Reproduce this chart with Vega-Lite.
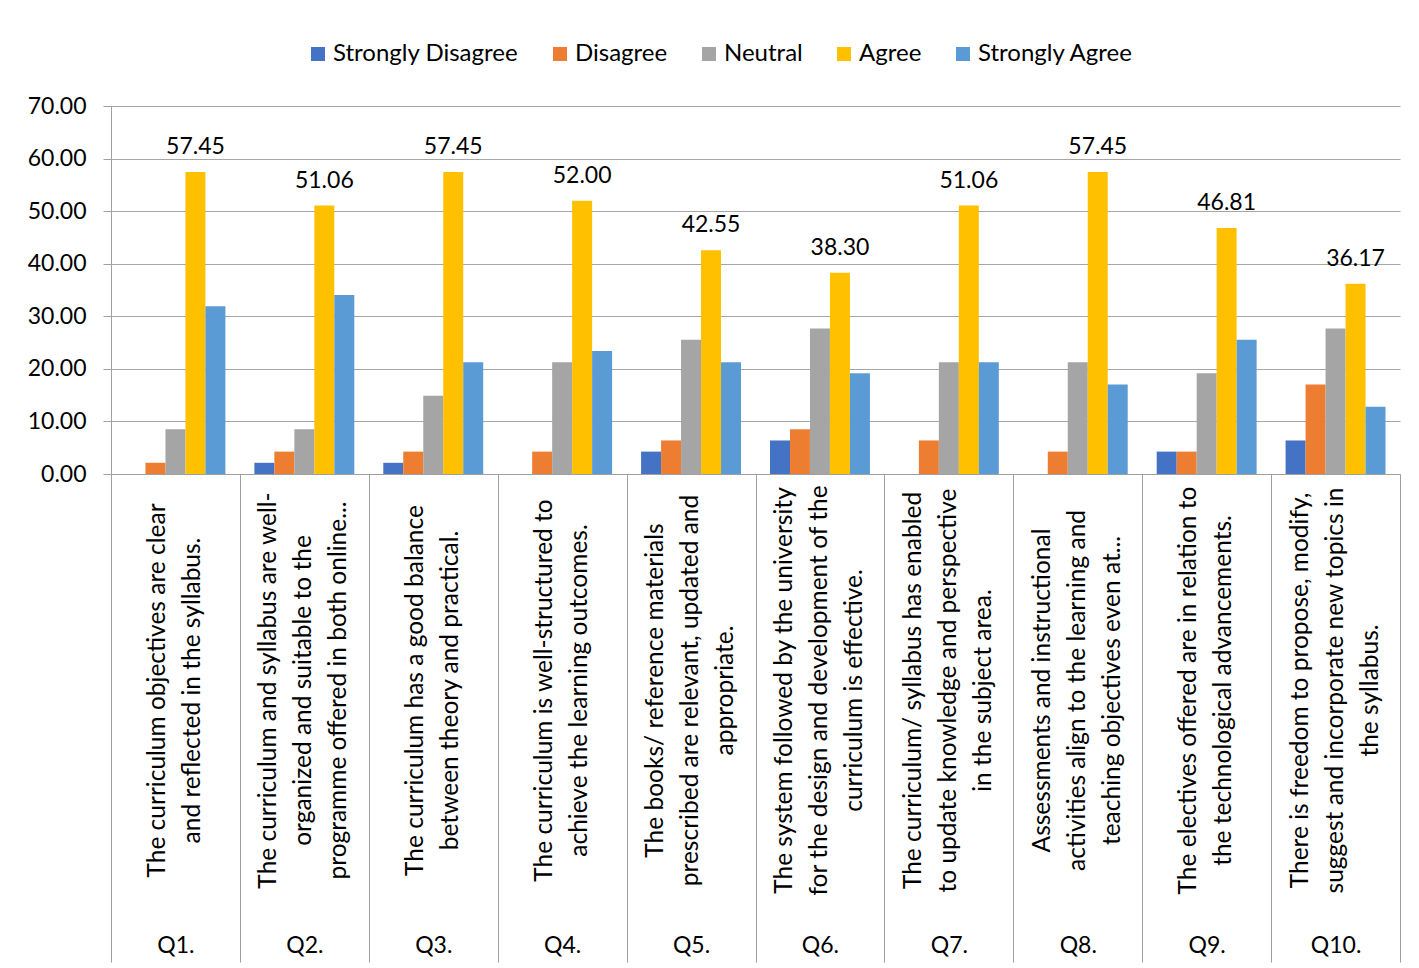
{
  "$schema": "https://vega.github.io/schema/vega-lite/v6.json",
  "width": 1289,
  "height": 368,
  "autosize": {"type": "none"},
  "padding": {"left": 111, "top": 106, "right": 19, "bottom": 494},
  "background": "white",
  "config": {
    "font": "Lato",
    "view": {"stroke": null},
    "axis": {"labelColor": "#000000", "labelFont": "Lato"},
    "legend": {"labelFont": "Lato"}
  },
  "datasets": {
    "questions": [
      {"q": "Q1.", "text": "The curriculum objectives are clear|and reflected in the syllabus."},
      {"q": "Q2.", "text": "The curriculum and syllabus are well-|organized and suitable to the|programme offered in both online..."},
      {"q": "Q3.", "text": "The curriculum has a good balance|between theory and practical."},
      {"q": "Q4.", "text": "The curriculum is well-structured to|achieve the learning outcomes."},
      {"q": "Q5.", "text": "The books/ reference materials|prescribed are relevant, updated and|appropriate."},
      {"q": "Q6.", "text": "The system followed by the university|for the design and development of the|curriculum is effective."},
      {"q": "Q7.", "text": "The curriculum/ syllabus has enabled|to update knowledge and perspective|in the subject area."},
      {"q": "Q8.", "text": "Assessments and instructional|activities align to the learning and|teaching objectives even at..."},
      {"q": "Q9.", "text": "The electives offered are in relation to|the technological advancements."},
      {"q": "Q10.", "text": "There is freedom to propose, modify,|suggest and incorporate new topics in|the syllabus."}
    ]
  },
  "data": {
    "values": [
      {"q": "Q1.", "series": "Strongly Disagree", "value": 0},
      {"q": "Q1.", "series": "Disagree", "value": 2.13},
      {"q": "Q1.", "series": "Neutral", "value": 8.51},
      {"q": "Q1.", "series": "Agree", "value": 57.45},
      {"q": "Q1.", "series": "Strongly Agree", "value": 31.91},
      {"q": "Q2.", "series": "Strongly Disagree", "value": 2.13},
      {"q": "Q2.", "series": "Disagree", "value": 4.26},
      {"q": "Q2.", "series": "Neutral", "value": 8.51},
      {"q": "Q2.", "series": "Agree", "value": 51.06},
      {"q": "Q2.", "series": "Strongly Agree", "value": 34.04},
      {"q": "Q3.", "series": "Strongly Disagree", "value": 2.13},
      {"q": "Q3.", "series": "Disagree", "value": 4.26},
      {"q": "Q3.", "series": "Neutral", "value": 14.89},
      {"q": "Q3.", "series": "Agree", "value": 57.45},
      {"q": "Q3.", "series": "Strongly Agree", "value": 21.28},
      {"q": "Q4.", "series": "Strongly Disagree", "value": 0},
      {"q": "Q4.", "series": "Disagree", "value": 4.26},
      {"q": "Q4.", "series": "Neutral", "value": 21.28},
      {"q": "Q4.", "series": "Agree", "value": 52.0},
      {"q": "Q4.", "series": "Strongly Agree", "value": 23.4},
      {"q": "Q5.", "series": "Strongly Disagree", "value": 4.26},
      {"q": "Q5.", "series": "Disagree", "value": 6.38},
      {"q": "Q5.", "series": "Neutral", "value": 25.53},
      {"q": "Q5.", "series": "Agree", "value": 42.55},
      {"q": "Q5.", "series": "Strongly Agree", "value": 21.28},
      {"q": "Q6.", "series": "Strongly Disagree", "value": 6.38},
      {"q": "Q6.", "series": "Disagree", "value": 8.51},
      {"q": "Q6.", "series": "Neutral", "value": 27.66},
      {"q": "Q6.", "series": "Agree", "value": 38.3},
      {"q": "Q6.", "series": "Strongly Agree", "value": 19.15},
      {"q": "Q7.", "series": "Strongly Disagree", "value": 0},
      {"q": "Q7.", "series": "Disagree", "value": 6.38},
      {"q": "Q7.", "series": "Neutral", "value": 21.28},
      {"q": "Q7.", "series": "Agree", "value": 51.06},
      {"q": "Q7.", "series": "Strongly Agree", "value": 21.28},
      {"q": "Q8.", "series": "Strongly Disagree", "value": 0},
      {"q": "Q8.", "series": "Disagree", "value": 4.26},
      {"q": "Q8.", "series": "Neutral", "value": 21.28},
      {"q": "Q8.", "series": "Agree", "value": 57.45},
      {"q": "Q8.", "series": "Strongly Agree", "value": 17.02},
      {"q": "Q9.", "series": "Strongly Disagree", "value": 4.26},
      {"q": "Q9.", "series": "Disagree", "value": 4.26},
      {"q": "Q9.", "series": "Neutral", "value": 19.15},
      {"q": "Q9.", "series": "Agree", "value": 46.81},
      {"q": "Q9.", "series": "Strongly Agree", "value": 25.53},
      {"q": "Q10.", "series": "Strongly Disagree", "value": 6.38},
      {"q": "Q10.", "series": "Disagree", "value": 17.02},
      {"q": "Q10.", "series": "Neutral", "value": 27.66},
      {"q": "Q10.", "series": "Agree", "value": 36.17},
      {"q": "Q10.", "series": "Strongly Agree", "value": 12.77}
    ]
  },
  "transform": [
    {"lookup": "q", "from": {"data": {"name": "questions"}, "key": "q", "fields": ["text"]}}
  ],
  "layer": [
    {
      "encoding": {
        "x": {
          "field": "text",
          "type": "nominal",
          "sort": null,
          "scale": {"paddingInner": 0, "paddingOuter": 0},
          "axis": {
            "title": null,
            "labelExpr": "split(datum.value, '|')",
            "labelAngle": -90,
            "labelAlign": "center",
            "labelBaseline": "middle",
            "labelPadding": 216,
            "labelLineHeight": 35,
            "labelFontSize": 24.5,
            "labelLimit": 0,
            "labelOverlap": false,
            "labelOffset": {
              "condition": {"test": "length(split(datum.value, '|')) >= 3", "value": -35},
              "value": -17.5
            },
            "ticks": false,
            "domain": false,
            "grid": false
          }
        },
        "xOffset": {
          "field": "series",
          "type": "nominal",
          "sort": ["Strongly Disagree", "Disagree", "Neutral", "Agree", "Strongly Agree"],
          "scale": {"paddingInner": 0, "paddingOuter": 0.725}
        },
        "y": {
          "field": "value",
          "type": "quantitative",
          "scale": {"domain": [0, 70], "nice": false},
          "axis": {
            "title": null,
            "values": [0, 10, 20, 30, 40, 50, 60, 70],
            "format": ".2f",
            "labelFontSize": 23,
            "labelPadding": 17,
            "tickSize": 8,
            "tickColor": "#a0a0a0",
            "domainColor": "#a0a0a0",
            "gridColor": "#a6a6a6",
            "grid": true
          }
        }
      },
      "layer": [
        {
          "mark": {"type": "bar"},
          "encoding": {
            "color": {
              "field": "series",
              "type": "nominal",
              "scale": {
                "domain": ["Strongly Disagree", "Disagree", "Neutral", "Agree", "Strongly Agree"],
                "range": ["#4472C4", "#ED7D31", "#A5A5A5", "#FFC000", "#5B9BD5"]
              },
              "legend": {
                "title": null,
                "orient": "none",
                "direction": "horizontal",
                "legendX": 195,
                "legendY": -64,
                "symbolType": "square",
                "symbolSize": 196,
                "symbolStrokeWidth": 0,
                "labelFontSize": 24,
                "labelColor": "#000000",
                "labelOffset": 3,
                "columnPadding": 29,
                "labelLimit": 0
              }
            }
          }
        },
        {
          "mark": {"type": "text", "align": "center", "baseline": "alphabetic", "dy": -18, "fontSize": 23, "color": "#000000"},
          "encoding": {
            "text": {
              "condition": {"test": "datum.series === 'Agree'", "field": "value", "type": "quantitative", "format": ".2f"},
              "value": ""
            }
          }
        }
      ]
    },
    {
      "mark": {"type": "bar", "opacity": 0},
      "encoding": {
        "x": {
          "field": "q",
          "type": "nominal",
          "sort": null,
          "scale": {"paddingInner": 0, "paddingOuter": 0},
          "axis": {
            "orient": "bottom",
            "title": null,
            "tickBand": "extent",
            "tickSize": 488,
            "tickColor": "#a0a0a0",
            "domainColor": "#a0a0a0",
            "labelAngle": 0,
            "labelAlign": "center",
            "labelBaseline": "middle",
            "labelPadding": -17,
            "labelFontSize": 23,
            "grid": false
          }
        },
        "y": {"field": "value", "type": "quantitative"}
      }
    }
  ],
  "resolve": {"scale": {"x": "independent"}, "axis": {"x": "independent"}}
}
